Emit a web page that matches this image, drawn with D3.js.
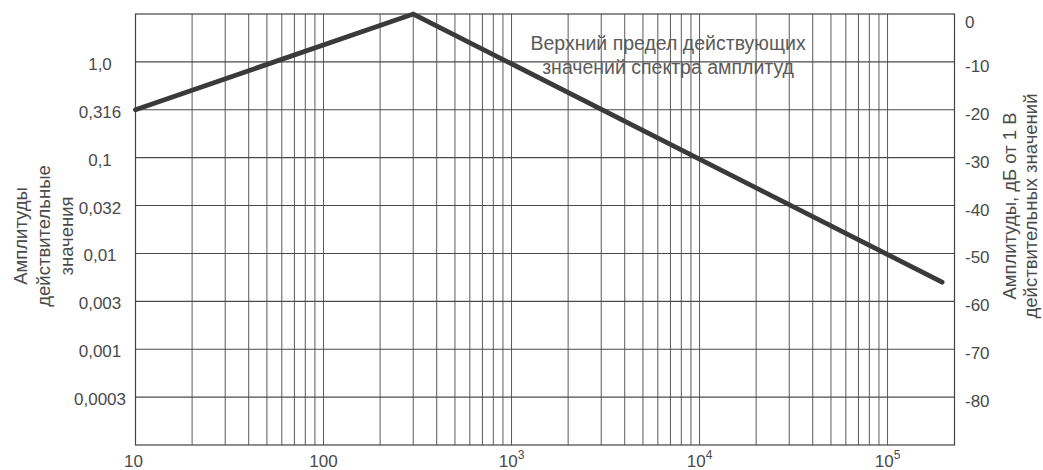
<!DOCTYPE html>
<html><head><meta charset="utf-8">
<script src="https://cdn.jsdelivr.net/npm/d3@7"></script>
<style>
body{margin:0;background:#fff}
text{font-family:"Liberation Sans",Arial,sans-serif;fill:#4a4a4a}
</style>
</head><body><svg id="c" width="1043" height="470"></svg>
<script>
// ---- data ----
const xDomain = [10, 227000];
const yDomain = [-90, 0];
const rightTickDb = [0, -10, -20, -30, -40, -50, -60, -70, -80];
const rightTickLabels = ["0", "-10", "-20", "-30", "-40", "-50", "-60", "-70", "-80"];
const leftTickDb = [-10, -20, -30, -40, -50, -60, -70, -80];
const leftTickLabels = ["1,0", "0,316", "0,1", "0,032", "0,01", "0,003", "0,001", "0,0003"];
const xTickValues = [10, 100, 1000, 10000, 100000];
const xTickBase = ["10", "100", "10", "10", "10"];
const xTickExp = ["", "", "3", "4", "5"];
const freq = [10, 300, 195000];
const levelDb = [-20, 0, -56];
const leftTitle = ["Амплитуды", "действительные", "значения"];
const rightTitle = ["Амплитуды, дБ от 1 В", "действительных значений"];
const noteLines = ["Верхний предел действующих", "значений спектра амплитуд"];
const noteFreq = 6800, noteDb = -6;

// ---- layout ----
const L = 135.5, R = 954.5, T = 14, B = 445;
const svg = d3.select("#c");
const x = d3.scaleLog().domain(xDomain).range([L, R]);
const y = d3.scaleLinear().domain(yDomain).range([B, T]);

// vertical grid
const vgrid = x.ticks().filter(v => v > 10 && v <= 100000);
svg.append("g").selectAll("line").data(vgrid).join("line")
  .attr("x1", d => x(d)).attr("x2", d => x(d))
  .attr("y1", T).attr("y2", B)
  .attr("stroke", "#5a5a5a").attr("stroke-width", 1);

// horizontal grid
svg.append("g").selectAll("line").data(rightTickDb.filter(d => d < 0)).join("line")
  .attr("x1", L).attr("x2", R)
  .attr("y1", d => y(d)).attr("y2", d => y(d))
  .attr("stroke", "#4a4a4a").attr("stroke-width", 1.1);

// frame
svg.append("rect").attr("x", L).attr("y", T).attr("width", R - L).attr("height", B - T)
  .attr("fill", "none").attr("stroke", "#444").attr("stroke-width", 1.2);

// annotation
svg.append("g").selectAll("text").data(noteLines).join("text")
  .attr("x", x(noteFreq)).attr("y", (d, i) => y(noteDb) + 7 + i * 24)
  .attr("text-anchor", "middle").style("font-size", "19.5px").style("fill", "#5a5a5a")
  .text(d => d);

// data line
const pts = freq.map((f, i) => [f, levelDb[i]]);
svg.append("path").datum(pts)
  .attr("d", d3.line().x(d => x(d[0])).y(d => y(d[1])))
  .attr("fill", "none").attr("stroke", "#3a3a3a").attr("stroke-width", 4.8)
  .attr("stroke-linejoin", "miter").attr("stroke-linecap", "round");

// left tick labels
svg.append("g").selectAll("text").data(leftTickDb).join("text")
  .attr("x", 100).attr("y", d => y(d) + 8)
  .attr("text-anchor", "middle").style("font-size", "17px")
  .text((d, i) => leftTickLabels[i]);

// right tick labels
svg.append("g").selectAll("text").data(rightTickDb).join("text")
  .attr("x", 965).attr("y", d => y(d) + (d === 0 ? 14 : 10))
  .attr("text-anchor", "start").style("font-size", "17px")
  .text((d, i) => rightTickLabels[i]);

// bottom tick labels
const xt = svg.append("g").selectAll("text").data(xTickValues).join("text")
  .attr("x", (d, i) => x(d) - (i === 0 ? 2 : 0)).attr("y", 467)
  .attr("text-anchor", "middle").style("font-size", "17px");
xt.append("tspan").text((d, i) => xTickBase[i]);
xt.append("tspan").attr("dy", -8).style("font-size", "12px").text((d, i) => xTickExp[i]);

// left title
svg.append("g").attr("transform", "translate(0,236) rotate(-90)")
  .selectAll("text").data(leftTitle).join("text")
  .attr("x", 0).attr("y", (d, i) => 27 + i * 23)
  .attr("text-anchor", "middle").style("font-size", "18.5px")
  .text(d => d);

// right title
svg.append("g").attr("transform", "translate(0,206) rotate(-90)")
  .selectAll("text").data(rightTitle).join("text")
  .attr("x", 0).attr("y", (d, i) => 1016 + i * 21)
  .attr("text-anchor", "middle").style("font-size", "18.5px")
  .text(d => d);
</script>
</body></html>
